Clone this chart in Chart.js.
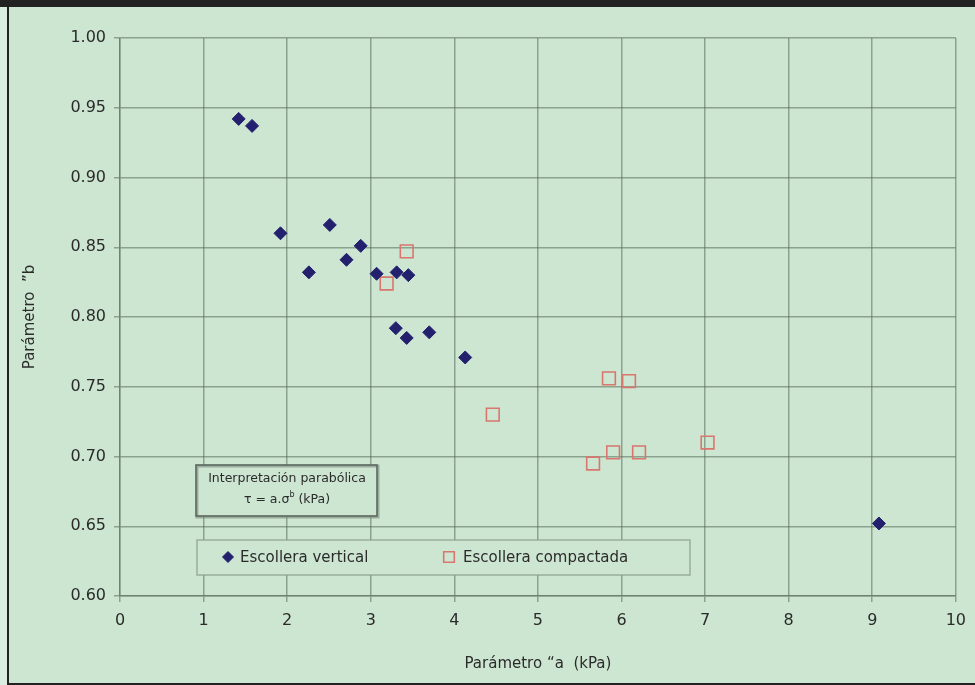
<!DOCTYPE html>
<html>
<head>
<meta charset="utf-8">
<script src="https://cdn.jsdelivr.net/npm/chart.js@4.4.1/dist/chart.umd.min.js"></script>
<style>
  html, body { margin: 0; padding: 0; background: #cde6d1; }
  #wrap { width: 975px; height: 685px; position: relative; }
</style>
</head>
<body>
<div id="wrap"><canvas id="scatter" width="975" height="685"></canvas></div>
<script>
// --------------- DATA
var verticalA = [1.42, 1.58, 1.92, 2.26, 2.51, 2.71, 2.88, 3.07, 3.31, 3.45, 3.30, 3.43, 3.70, 4.13, 9.08];
var verticalB = [0.942, 0.937, 0.860, 0.832, 0.866, 0.841, 0.851, 0.831, 0.832, 0.830, 0.792, 0.785, 0.789, 0.771, 0.652];
var compactA = [3.19, 3.43, 4.46, 5.85, 6.09, 5.66, 5.90, 6.21, 7.03];
var compactB = [0.824, 0.847, 0.730, 0.756, 0.754, 0.695, 0.703, 0.703, 0.710];
var seriesLabels = ["Escollera vertical", "Escollera compactada"];
var xTitle = "Parámetro “a  (kPa)";
var yTitle = "Parámetro  ”b";
var noteLines = ["Interpretación parabólica", "τ = a.σ", "b", " (kPa)"];

function pts(xs, ys){
    var out = [];
    for (var i = 0; i < xs.length; i++){ out.push({x: xs[i], y: ys[i]}); }
    return out;
}

var FONT = "'DejaVu Sans', sans-serif";
var BG = "#cde6d1";
var GRID = "rgba(85,105,90,0.55)";
var TXT = "#2b2b2b";

// page frame: background, dark top bar, left and bottom rules
var framePlugin = {
    id: 'frame',
    beforeDraw: function(chart){
        var c = chart.ctx;
        c.save();
        c.fillStyle = BG;
        c.fillRect(0, 0, chart.width, chart.height);
        c.fillStyle = "#dbece0";
        c.fillRect(0, 0, 7, chart.height);
        c.fillStyle = "#222";
        c.fillRect(0, 0, chart.width, 7);
        c.fillRect(7, 7, 2, chart.height - 7);
        c.fillRect(7, chart.height - 2, chart.width, 2);
        c.restore();
    }
};

// legend and note boxes inside the plot
var boxesPlugin = {
    id: 'boxes',
    beforeDatasetsDraw: function(chart){
        var c = chart.ctx;
        c.save();

        // note box
        c.fillStyle = BG;
        c.fillRect(196, 465, 182, 52);
        c.strokeStyle = "rgba(120,135,125,0.6)";
        c.lineWidth = 3;
        c.strokeRect(197, 466, 181, 51);
        c.strokeStyle = "#5a665d";
        c.lineWidth = 1.5;
        c.strokeRect(196, 465, 181, 51);
        c.fillStyle = TXT;
        c.textBaseline = "middle";
        c.textAlign = "center";
        c.font = "12.5px " + FONT;
        c.fillText(noteLines[0], 287, 479);
        var w1 = c.measureText(noteLines[1]).width;
        c.font = "8px " + FONT;
        var w2 = c.measureText(noteLines[2]).width;
        c.font = "12.5px " + FONT;
        var w3 = c.measureText(noteLines[3]).width;
        var sx = 287 - (w1 + w2 + w3) / 2;
        c.textAlign = "left";
        c.fillText(noteLines[1], sx, 500);
        c.font = "8px " + FONT;
        c.fillText(noteLines[2], sx + w1, 495);
        c.font = "12.5px " + FONT;
        c.fillText(noteLines[3], sx + w1 + w2, 500);

        // legend box
        c.fillStyle = BG;
        c.fillRect(197, 540, 493, 35);
        c.strokeStyle = "rgba(140,160,145,0.8)";
        c.lineWidth = 1.5;
        c.strokeRect(197, 540, 493, 35);

        var ds = chart.data.datasets;
        var items = [{x: 228, tx: 240}, {x: 449, tx: 463}];
        for (var i = 0; i < ds.length; i++){
            var it = items[i];
            c.fillStyle = ds[i].pointBackgroundColor;
            c.strokeStyle = ds[i].pointBorderColor;
            c.lineWidth = ds[i].borderWidth;
            Chart.helpers.drawPoint(c, {
                pointStyle: ds[i].pointStyle,
                radius: ds[i].pointStyle === 'rect' ? 7.5 : 5.5,
                borderWidth: ds[i].borderWidth
            }, it.x, 557);
            c.font = "15px " + FONT;
            c.textAlign = "left";
            c.textBaseline = "middle";
            c.fillStyle = TXT;
            c.fillText(ds[i].label, it.tx, 558);
        }
        c.restore();
    }
};

var ctx = document.getElementById("scatter");
var chart = new Chart(ctx, {
    type: 'scatter',
    data: {
        datasets: [{
            label: seriesLabels[0],
            data: pts(verticalA, verticalB),
            pointStyle: 'rectRot',
            pointRadius: 6.5,
            pointHoverRadius: 6.5,
            pointBackgroundColor: '#23216e',
            pointBorderColor: '#23216e',
            borderWidth: 1
        }, {
            label: seriesLabels[1],
            data: pts(compactA, compactB),
            pointStyle: 'rect',
            pointRadius: 9,
            pointHoverRadius: 9,
            pointBackgroundColor: 'rgba(0,0,0,0)',
            pointBorderColor: '#d9766e',
            borderWidth: 1.6
        }]
    },
    options: {
        responsive: false,
        animation: false,
        layout: { padding: { top: 38, right: 18, left: 0, bottom: 0 } },
        plugins: {
            legend: { display: false },
            tooltip: { enabled: false }
        },
        scales: {
            x: {
                type: 'linear',
                min: 0, max: 10,
                afterFit: function(s){ s.height = 89; },
                ticks: { stepSize: 1, color: TXT, padding: 9, font: { size: 16, family: FONT } },
                grid: { color: GRID, lineWidth: 1.5, tickLength: 6 },
                border: { color: GRID, width: 1.5 },
                title: { display: true, text: xTitle, color: TXT, padding: { top: 0, bottom: 12 }, font: { size: 15, family: FONT } }
            },
            y: {
                type: 'linear',
                min: 0.6, max: 1.0,
                afterFit: function(s){ s.width = 120; },
                ticks: {
                    stepSize: 0.05, color: TXT, padding: 8,
                    font: { size: 16, family: FONT },
                    callback: function(v){ return Number(v).toFixed(2); }
                },
                grid: { color: GRID, lineWidth: 1.5, tickLength: 6 },
                border: { color: GRID, width: 1.5 },
                title: { display: true, text: yTitle, color: TXT, padding: { top: 21, bottom: 0 }, font: { size: 15, family: FONT } }
            }
        }
    },
    plugins: [framePlugin, boxesPlugin]
});
</script>
</body>
</html>
